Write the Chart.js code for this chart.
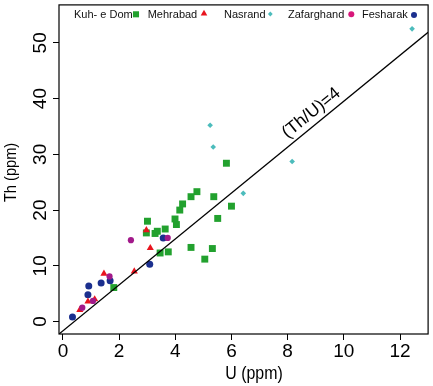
<!DOCTYPE html>
<html><head><meta charset="utf-8">
<script src="https://cdn.jsdelivr.net/npm/chart.js@4/dist/chart.umd.min.js"></script>
<style>html,body{margin:0;padding:0;background:#fff}#wrap{width:433px;height:386px;position:relative}canvas{display:block}</style>
</head><body><div id="wrap"><canvas id="c" width="433" height="386"></canvas></div>
<script>
// ---- data ----
const seriesNames = ['Kuh- e Dom', 'Mehrabad', 'Nasrand', 'Zafarghand', 'Fesharak'];
const kuhU  = [5.82, 4.77, 4.56, 5.37, 4.26, 4.16, 6.00, 3.99, 4.04, 5.51, 3.01, 3.64, 3.36, 3.28, 2.97, 4.56, 5.32, 3.46, 3.75, 5.05, 1.81];
const kuhTh = [28.4, 23.3, 22.4, 22.4, 21.1, 20.0, 20.7, 18.4, 17.4, 18.5, 18.0, 16.6, 16.2, 15.8, 15.9, 13.3, 13.1, 12.3, 12.5, 11.2, 6.1];
const mehU  = [2.97, 3.11, 2.54, 1.46, 1.13, 0.89, 0.60];
const mehTh = [16.4, 13.2, 9.0, 8.6, 4.0, 3.6, 2.1];
const nasU  = [5.24, 5.35, 8.16, 6.42, 12.43];
const nasTh = [35.2, 31.3, 28.7, 23.0, 52.5];
const zafU  = [2.42, 3.73, 1.66, 1.07, 0.69];
const zafTh = [14.6, 15.0, 8.1, 3.7, 2.5];
const fesU  = [3.57, 3.09, 0.92, 1.36, 1.68, 0.89, 0.34];
const fesTh = [15.0, 10.3, 6.4, 6.9, 7.3, 4.8, 0.8];
const ratioLineU  = [-0.14, 13.0];
const ratioLineTh = [-2.23, 51.9];
const ratioLabel = '(Th/U)=4';
const xTicks = [0, 2, 4, 6, 8, 10, 12];
const yTicks = [0, 10, 20, 30, 40, 50];
const xTitle = 'U (ppm)';
const yTitle = 'Th (ppm)';

// ---- styles ----
const FONT = '"Liberation Sans", Arial, Helvetica, sans-serif';
const styles = [
  {color: '#22a12e', legendColor: '#22a12e', pointStyle: 'rect', radius: 4.9, order: 5},
  {color: '#e8141e', legendColor: '#e8141e', pointStyle: 'triangle', radius: 4.1, order: 3},
  {color: '#4cbcbc', legendColor: '#4cbcbc', pointStyle: 'rectRot', radius: 2.8, order: 1},
  {color: '#a2198a', legendColor: '#d8177a', pointStyle: 'circle', radius: 3.1, order: 2},
  {color: '#1b2f8e', legendColor: '#1b2f8e', pointStyle: 'circle', radius: 3.5, order: 4}
];
const zip = (a, b) => a.map((v, i) => ({x: v, y: b[i]}));
const seriesData = [zip(kuhU, kuhTh), zip(mehU, mehTh), zip(nasU, nasTh), zip(zafU, zafTh), zip(fesU, fesTh)];

const datasets = seriesNames.map((n, i) => ({
  label: n,
  data: seriesData[i],
  pointStyle: styles[i].pointStyle,
  pointRadius: styles[i].radius,
  pointBackgroundColor: styles[i].color,
  pointBorderWidth: 0,
  order: styles[i].order
}));
datasets.push({
  type: 'line',
  label: ratioLabel,
  data: zip(ratioLineU, ratioLineTh),
  borderColor: '#000',
  borderWidth: 1.3,
  pointRadius: 0,
  fill: false,
  order: 0
});

function drawMarker(ctx, style, color, x, y) {
  ctx.save();
  ctx.fillStyle = color;
  if (Chart.helpers && Chart.helpers.drawPoint) {
    Chart.helpers.drawPoint(ctx, {pointStyle: style.pointStyle, radius: style.radius, rotation: 0, borderWidth: 0}, x, y);
  } else {
    ctx.beginPath(); ctx.arc(x, y, style.radius, 0, Math.PI * 2); ctx.fill();
  }
  ctx.restore();
}

const decor = {
  id: 'decor',
  afterDraw(chart) {
    const ctx = chart.ctx, ca = chart.chartArea;
    const xs = chart.scales.x, ys = chart.scales.y;
    ctx.save();
    // frame
    ctx.strokeStyle = '#000'; ctx.lineWidth = 1.2;
    ctx.strokeRect(ca.left, ca.top, ca.right - ca.left, ca.bottom - ca.top);
    // x tick labels
    ctx.fillStyle = '#000';
    ctx.font = '19px ' + FONT;
    ctx.textAlign = 'center'; ctx.textBaseline = 'alphabetic';
    xs.ticks.forEach(t => ctx.fillText(String(t.value), xs.getPixelForValue(t.value), 357));
    // y tick labels (rotated)
    ys.ticks.forEach(t => {
      ctx.save();
      ctx.translate(46, ys.getPixelForValue(t.value));
      ctx.rotate(-Math.PI / 2);
      ctx.fillText(String(t.value), 0, 0);
      ctx.restore();
    });
    // axis titles
    ctx.save();
    ctx.font = '18.5px ' + FONT;
    ctx.translate(254, 378.5);
    ctx.scale(0.86, 1);
    ctx.fillText(xTitle, 0, 0);
    ctx.restore();
    ctx.save();
    ctx.font = '17px ' + FONT;
    ctx.translate(15.5, (ca.top + ca.bottom) / 2 + 3);
    ctx.rotate(-Math.PI / 2);
    ctx.scale(0.86, 1);
    ctx.fillText(yTitle, 0, 0);
    ctx.restore();
    // ratio label along the line
    const p1x = xs.getPixelForValue(ratioLineU[0]), p1y = ys.getPixelForValue(ratioLineTh[0]);
    const p2x = xs.getPixelForValue(ratioLineU[1]), p2y = ys.getPixelForValue(ratioLineTh[1]);
    const ang = Math.atan2(p2y - p1y, p2x - p1x);
    const uA = 9.1;
    const thA = ratioLineTh[0] + (uA - ratioLineU[0]) * (ratioLineTh[1] - ratioLineTh[0]) / (ratioLineU[1] - ratioLineU[0]);
    const ax = xs.getPixelForValue(uA), ay = ys.getPixelForValue(thA);
    const off = 6.5;
    ctx.save();
    ctx.translate(ax + Math.sin(ang) * off, ay - Math.cos(ang) * off);
    ctx.rotate(ang);
    ctx.font = '17.5px ' + FONT;
    ctx.fillText(ratioLabel, 0, 0);
    ctx.restore();
    // legend: label then marker
    const legX = [74, 147.7, 224, 288, 362];
    const mkX = [136, 204, 270.3, 351.3, 414];
    const mkY = [14.3, 13.6, 14, 14.3, 15];
    ctx.font = '11px ' + FONT;
    ctx.textAlign = 'left';
    seriesNames.forEach((n, i) => {
      ctx.fillStyle = '#111';
      ctx.fillText(n, legX[i], 18.2);
      const st = Object.assign({}, styles[i]);
      st.radius = st.pointStyle === 'rect' ? 4.3 : (st.pointStyle === 'triangle' ? 3.8 : (st.pointStyle === 'rectRot' ? 2.4 : 3.0));
      drawMarker(ctx, st, styles[i].legendColor, mkX[i], mkY[i]);
    });
    ctx.restore();
  }
};

new Chart(document.getElementById('c'), {
  type: 'scatter',
  data: {datasets},
  options: {
    responsive: false,
    animation: false,
    devicePixelRatio: 1,
    layout: {padding: {top: 1, right: 1, left: 0, bottom: 0}},
    plugins: {legend: {display: false}, tooltip: {enabled: false}},
    scales: {
      x: {
        type: 'linear', min: -0.14, max: 13.0,
        afterBuildTicks: s => { s.ticks = xTicks.map(v => ({value: v})); },
        afterFit: s => { s.height = 52; },
        ticks: {display: false},
        grid: {display: true, drawOnChartArea: false, drawTicks: true, tickLength: 6, color: '#000', lineWidth: 1},
        border: {display: false}
      },
      y: {
        type: 'linear', min: -2.23, max: 56.8,
        afterBuildTicks: s => { s.ticks = yTicks.map(v => ({value: v})); },
        afterFit: s => { s.width = 59; },
        ticks: {display: false},
        grid: {display: true, drawOnChartArea: false, drawTicks: true, tickLength: 6, color: '#000', lineWidth: 1},
        border: {display: false}
      }
    }
  },
  plugins: [decor]
});
</script></body></html>
